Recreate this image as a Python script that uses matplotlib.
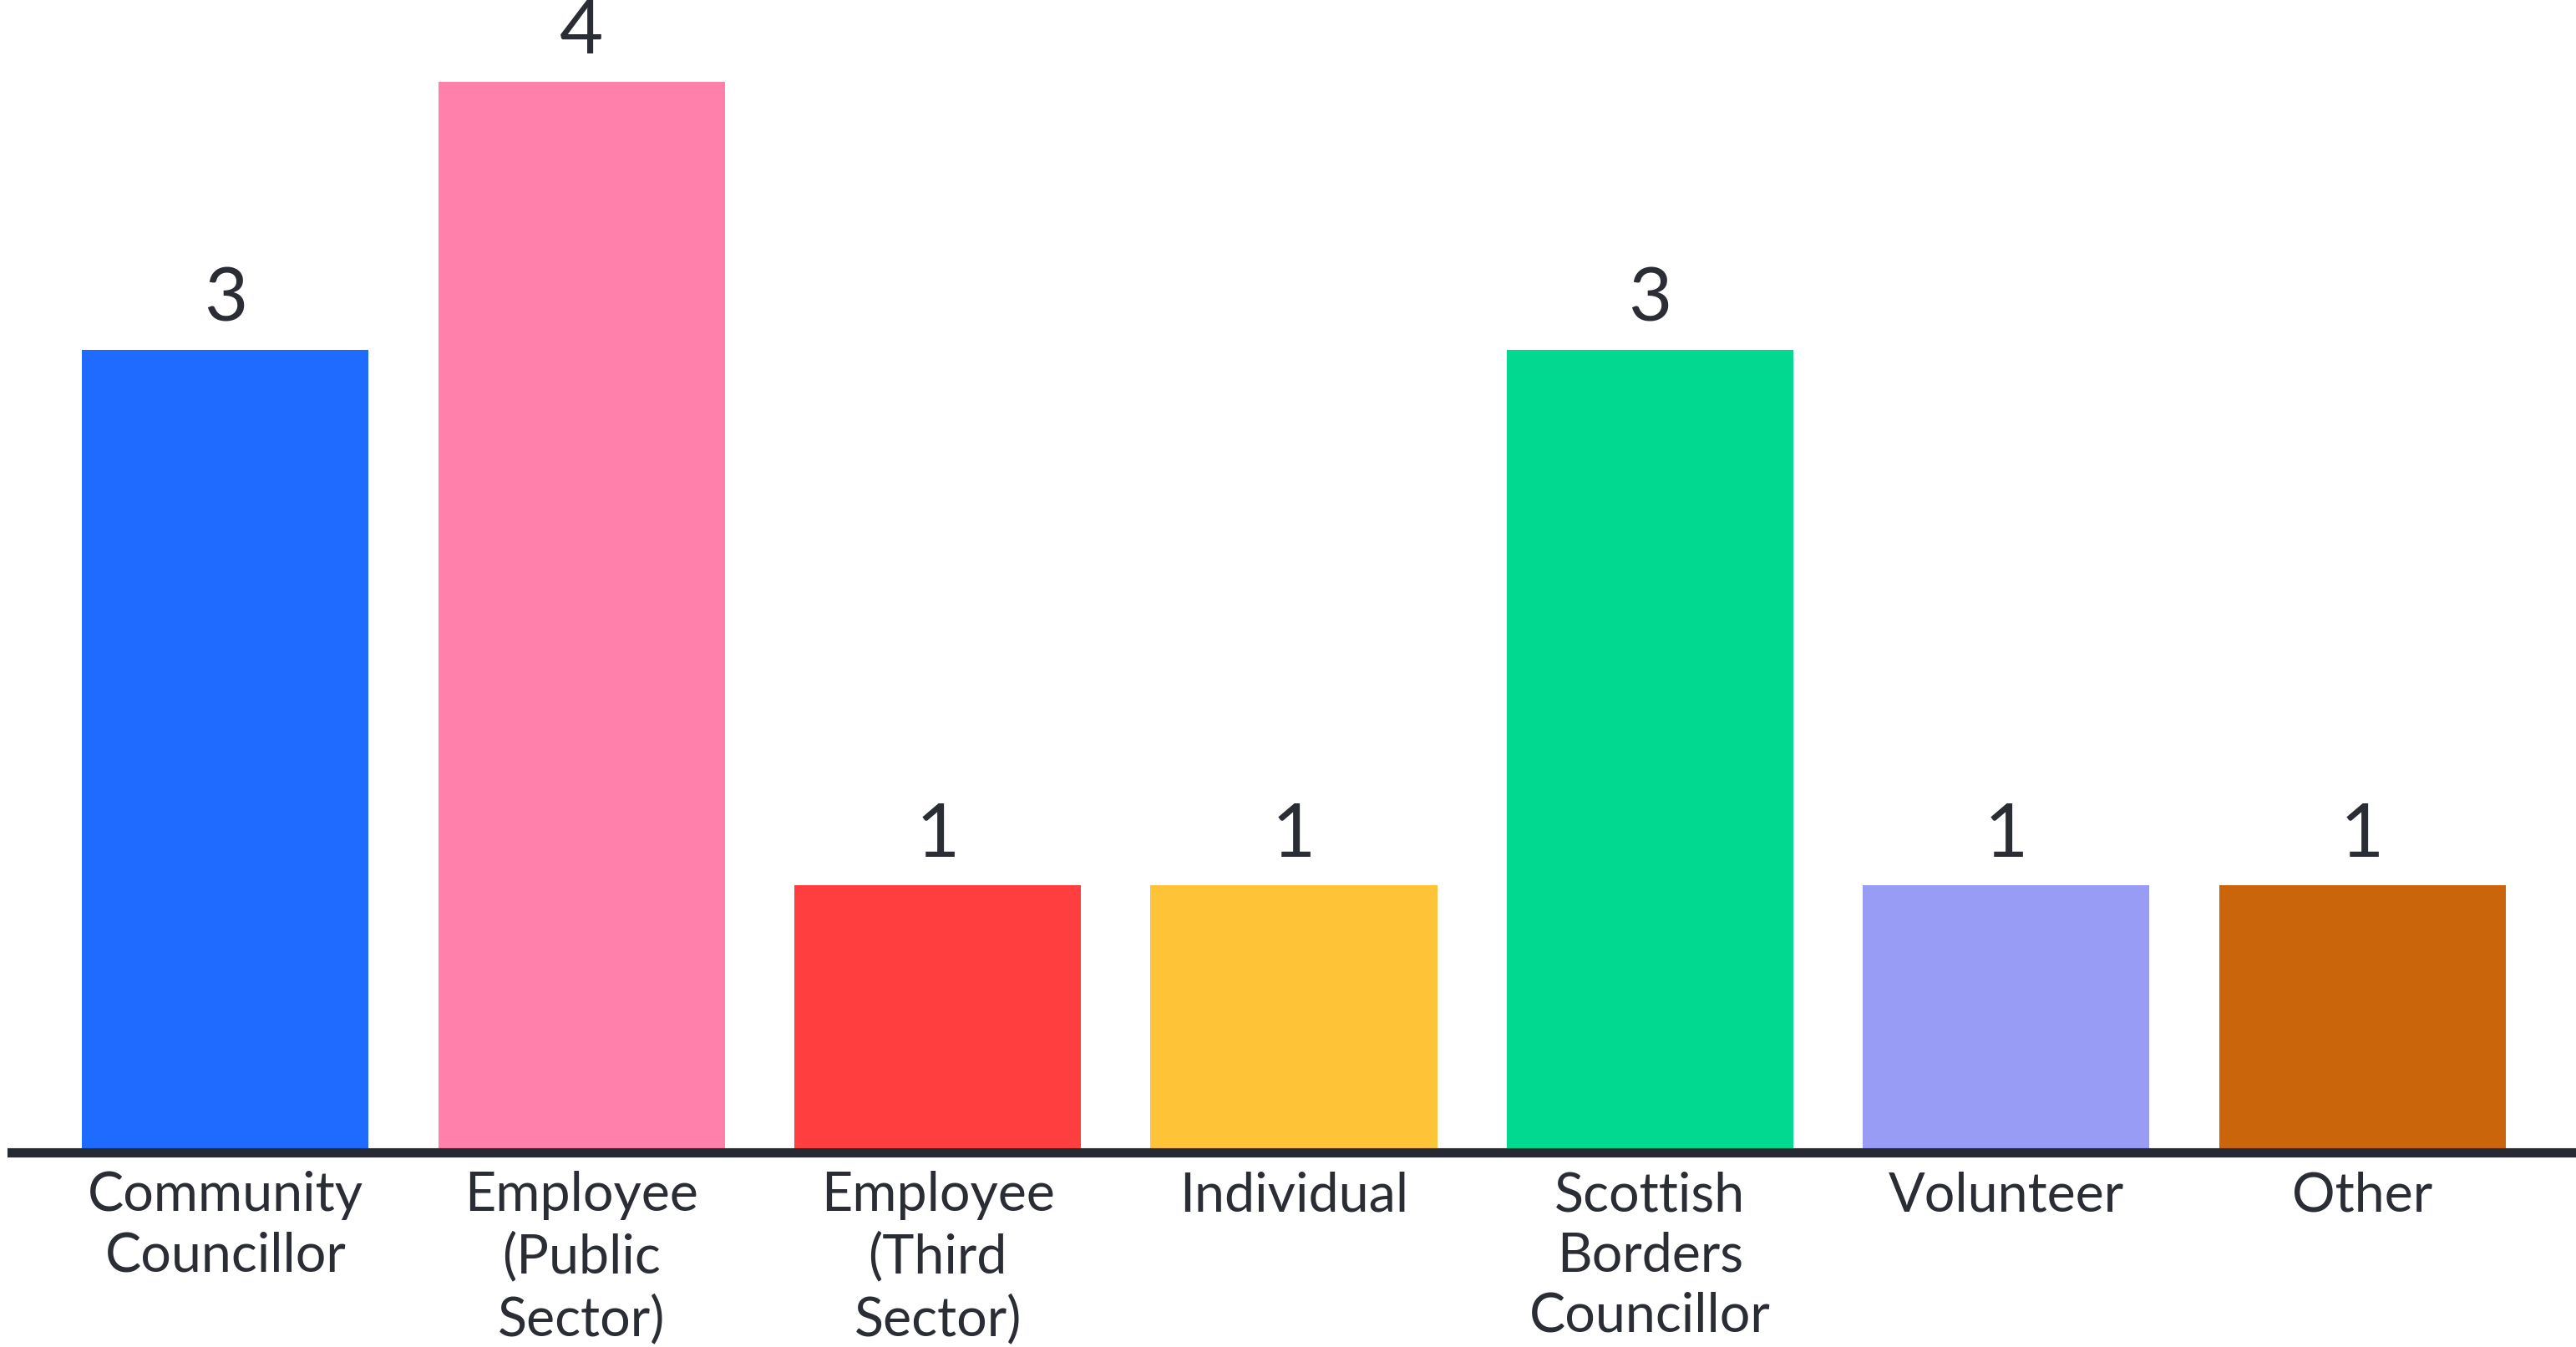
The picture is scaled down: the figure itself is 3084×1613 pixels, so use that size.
import matplotlib.pyplot as plt

categories = ["Community\nCouncillor", "Employee\n(Public\nSector)", "Employee\n(Third\nSector)",
              "Individual", "Scottish\nBorders\nCouncillor", "Volunteer", "Other"]
counts = [3, 4, 1, 1, 3, 1, 1]
bar_colors = ["#1f6bff", "#ff80aa", "#ff3f3f", "#ffc338", "#00d98f", "#999cf5", "#cb650c"]

plt.rcParams['font.family'] = ['Lato', 'DejaVu Sans']
text_color = "#2a2d34"

fig = plt.figure(figsize=(30.84, 16.13), dpi=100)
ax = fig.add_axes([14 / 3084, 233 / 1613, 3070 / 3084, 1380 / 1613])

x = range(len(categories))
bars = ax.bar(x, counts, width=0.805, color=bar_colors)

for rect, v in zip(bars, counts):
    ax.annotate(str(v), (rect.get_x() + rect.get_width() / 2, v), xytext=(0, 13),
                textcoords="offset points", ha="center", va="bottom",
                fontsize=65, color=text_color)

ax.set_xlim(-0.6, 6.6)
ax.set_ylim(0, 4.307)
ax.set_xticks(list(x))
ax.set_xticklabels(categories, fontsize=46.5, color=text_color, linespacing=1.27)
ax.tick_params(axis="x", length=0, pad=16)
ax.set_yticks([])
for side in ["top", "left", "right"]:
    ax.spines[side].set_visible(False)
ax.spines["bottom"].set_linewidth(8)
ax.spines["bottom"].set_color("#262a33")
ax.spines["bottom"].set_zorder(3)

fig.savefig("out.png", dpi=100)
